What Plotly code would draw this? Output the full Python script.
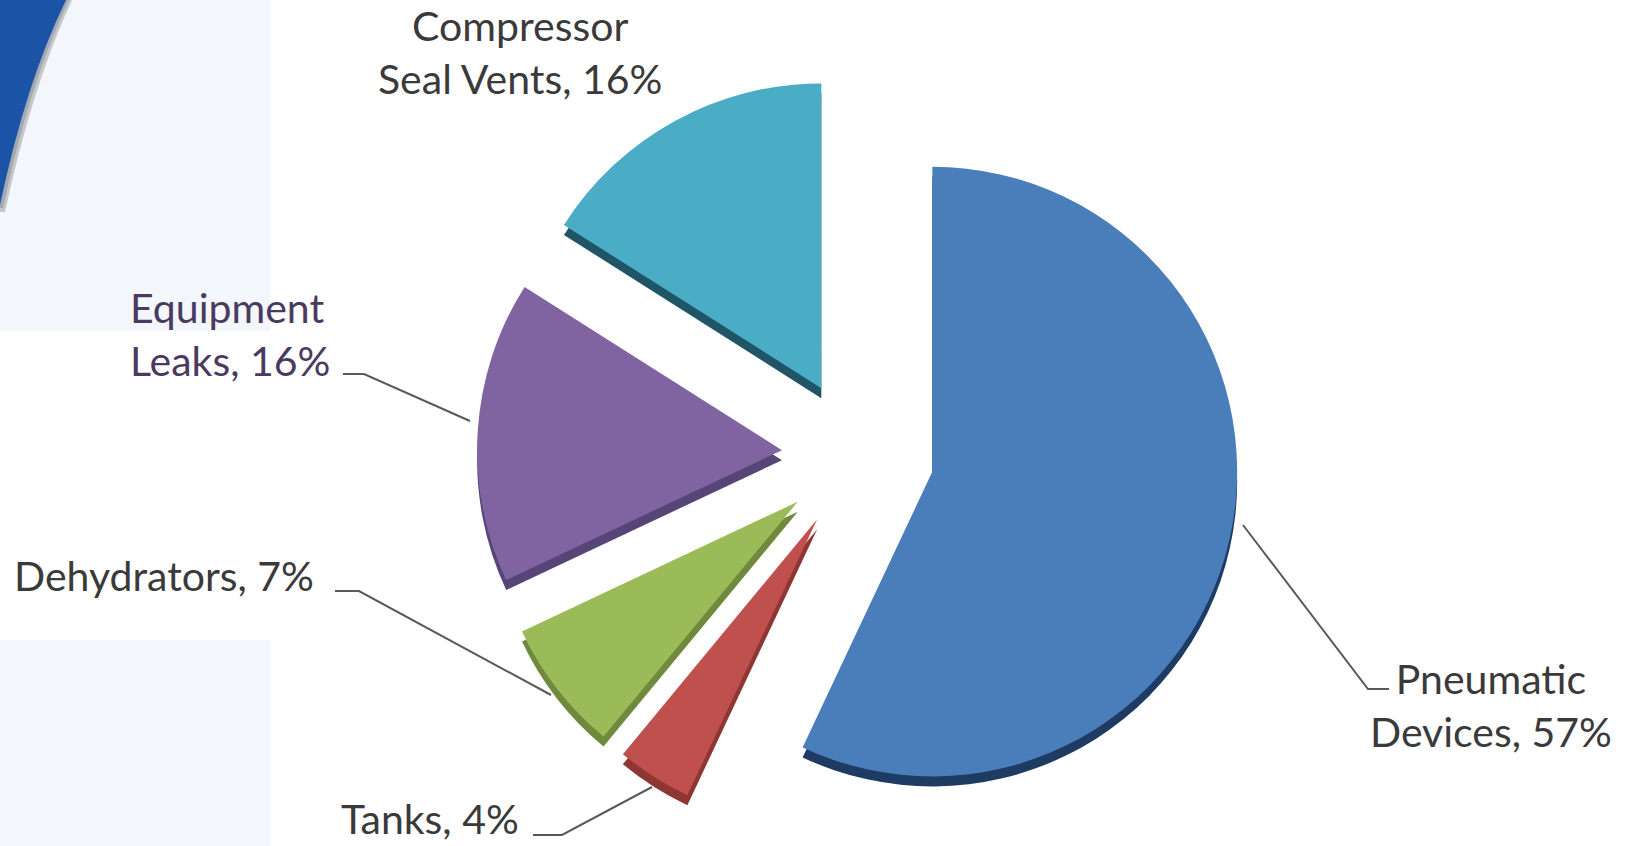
import plotly.graph_objects as go

# ---- data ----
labels = ["Pneumatic Devices", "Tanks", "Dehydrators", "Equipment Leaks", "Compressor Seal Vents"]
values = [57, 4, 7, 16, 16]
label_texts = ["Pneumatic<br>Devices, 57%", "Tanks, 4%", "Dehydrators, 7%",
               "Equipment<br>Leaks, 16%", "Compressor<br>Seal Vents, 16%"]
colors = ["#4A7EBB", "#C0504D", "#9BBB59", "#8064A2", "#4BACC6"]
side_colors = ["#1E3B63", "#8E3634", "#6F8A3C", "#574578", "#1F5566"]
pulls = [0.25, 0.25, 0.25, 0.25, 0.25]

W, H = 1631, 846


def px(x):
    return x / W


def py(y):
    return 1 - y / H


# pie geometry (pixels)
cx, cy, box = 858, 455, 762
depth = 10
dom_x = [px(cx - box / 2), px(cx + box / 2)]
dom_y = [py(cy + box / 2), py(cy - box / 2)]
dom_y_shadow = [py(cy + box / 2 + depth), py(cy - box / 2 + depth)]

fig = go.Figure()

# 3D side (darker copy shifted down)
fig.add_trace(go.Pie(
    labels=labels, values=values, sort=False, direction="clockwise", rotation=0,
    pull=pulls, marker=dict(colors=side_colors, line=dict(width=0)),
    textinfo="none", hoverinfo="skip", showlegend=False,
    domain=dict(x=dom_x, y=dom_y_shadow),
))
# top face
fig.add_trace(go.Pie(
    labels=labels, values=values, sort=False, direction="clockwise", rotation=0,
    pull=pulls, marker=dict(colors=colors, line=dict(width=0)),
    textinfo="none", showlegend=False,
    domain=dict(x=dom_x, y=dom_y),
))

shapes = []
panel = "#F3F6FA"
shapes.append(dict(type="rect", xref="paper", yref="paper", x0=px(0), x1=px(270),
                   y0=py(331), y1=py(0), fillcolor=panel, line=dict(width=0), layer="below"))
shapes.append(dict(type="rect", xref="paper", yref="paper", x0=px(0), x1=px(270),
                   y0=py(846), y1=py(640), fillcolor=panel, line=dict(width=0), layer="below"))

# swoosh soft shadow
sh = f"M {px(0)},{py(0)} L {px(72)},{py(0)} Q {px(32)},{py(86)} {px(5)},{py(212)} L {px(0)},{py(212)} Z"
shapes.append(dict(type="path", xref="paper", yref="paper", path=sh,
                   fillcolor="#C3C7CD", line=dict(width=0), layer="below"))
sh2 = f"M {px(0)},{py(0)} L {px(69)},{py(0)} Q {px(29)},{py(84)} {px(3)},{py(208)} L {px(0)},{py(208)} Z"
shapes.append(dict(type="path", xref="paper", yref="paper", path=sh2,
                   fillcolor="#A4A8AF", line=dict(width=0), layer="below"))
# swoosh
sw = f"M {px(0)},{py(0)} L {px(66)},{py(0)} Q {px(26)},{py(82)} {px(0)},{py(205)} Z"
shapes.append(dict(type="path", xref="paper", yref="paper", path=sw,
                   fillcolor="#1B54A7", line=dict(width=0), layer="below"))

# leader lines
leaders = [
    [(343, 374), (364, 374), (470, 421)],
    [(335, 591), (359, 591), (551, 695)],
    [(533, 835), (562, 835), (652, 787)],
    [(1243, 525), (1368, 689), (1389, 689)],
]
for pts in leaders:
    d = "M " + " L ".join(f"{px(x)},{py(y)}" for x, y in pts)
    shapes.append(dict(type="path", xref="paper", yref="paper", path=d,
                       line=dict(color="#595959", width=2)))

fig.update_layout(shapes=shapes)

txt_color = "#3A3A3A"
font = dict(family="Lato", size=41, color=txt_color)
ann_pos = [
    (1491, 705, "center", "center"),
    (339, 818, "left", "left"),
    (12, 575, "left", "left"),
    (128, 334, "left", "left"),
    (520, 52, "center", "center"),
]
annotations = []
for txt, (x, y, xa, al) in zip(label_texts, ann_pos):
    f = dict(font)
    if txt.startswith("Equipment"):
        f["color"] = "#4A3A60"
    annotations.append(dict(text=txt, x=px(x), y=py(y), xref="paper", yref="paper",
                            xanchor=xa, yanchor="middle", align=al, showarrow=False, font=f))

fig.update_layout(
    width=W, height=H, margin=dict(l=0, r=0, t=0, b=0),
    paper_bgcolor="white", plot_bgcolor="white",
    annotations=annotations, showlegend=False,
)

fig.write_html("out.html")
